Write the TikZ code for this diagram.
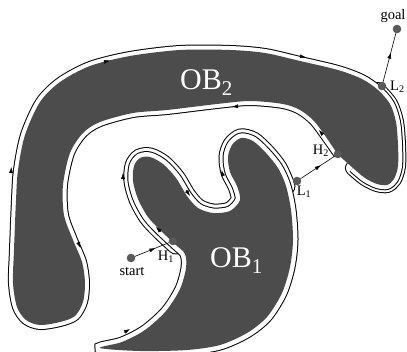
\documentclass[tikz,border=0pt]{standalone}
\usepackage{fontspec}
\setmainfont{Liberation Serif}
\usetikzlibrary{arrows.meta,decorations.markings}
\definecolor{obgray}{RGB}{76,76,76}
\definecolor{dotgray}{RGB}{90,90,90}
\begin{document}
\begin{tikzpicture}[x=1pt,y=-1pt,
  sgltwo/.style={draw=black,line width=1pt,double=white,double distance=8pt},
  dbltwo/.style={draw=black,line width=1pt,double=white,double distance=14pt,line cap=round},
  sglone/.style={draw=black,line width=1pt,double=white,double distance=9pt},
  dblone/.style={draw=black,line width=1pt,double=white,double distance=17pt,line cap=round},
  ptdot/.style={circle,fill=dotgray,draw=black!70,line width=0.4pt,inner sep=0pt,minimum size=8pt},
  lbl/.style={font=\fontsize{14.5}{16}\selectfont,inner sep=0pt},
  oblbl/.style={font=\fontsize{30}{34}\selectfont,text=white,inner sep=0pt},
  ptip/.style={-{Latex[length=6pt,width=4pt]},line width=0.5pt},
  conn/.style={line width=0.6pt,postaction={decorate},
    decoration={markings,mark=at position 0.6 with {\arrow{Latex[length=6pt,width=4pt]}}}}
]
\useasboundingbox (0,0) rectangle (407,352);

% ---------- OB2 ----------
\draw[dbltwo] plot[smooth] coordinates {(378,90) (390,104) (396,122) (398,145) (398,166) (394,179) (387,185) (377,184) (365,178) (353,168)};
\draw[sgltwo] plot[smooth] coordinates {(338,154) (326,137) (314,121) (300,110) (283,104) (250,101) (217,104) (167,110) (133,113) (100,122) (83,133) (70,153) (63,185) (64,215) (73,240) (82,262) (85,283) (83,302) (75,316) (60,322) (40,325) (26,320) (17,307) (13,283) (14,250) (16,200) (18,170) (25,135) (40,102) (60,82) (90,66) (130,56) (180,50) (230,50) (265,53) (300,61) (338,70) (362,79) (378,90) (390,104) (396,122) (398,145) (398,166) (394,179) (387,185) (377,184) (365,178) (353,168)};
\fill[obgray] plot[smooth cycle] coordinates {(338,154) (326,137) (314,121) (300,110) (283,104) (250,101) (217,104) (167,110) (133,113) (100,122) (83,133) (70,153) (63,185) (64,215) (73,240) (82,262) (85,283) (83,302) (75,316) (60,322) (40,325) (26,320) (17,307) (13,283) (14,250) (16,200) (18,170) (25,135) (40,102) (60,82) (90,66) (130,56) (180,50) (230,50) (265,53) (300,61) (338,70) (362,79) (378,90) (390,104) (396,122) (398,145) (398,166) (394,179) (387,185) (377,184) (365,178) (353,168)};

% ---------- OB1 ----------
\draw[dblone] plot[smooth] coordinates {(176,245) (161,231) (148,217) (138,199) (133,181) (134,166) (140,158) (150,157) (163,164) (176,178) (187,196) (198,208) (213,213) (230,211) (240,200) (237,186) (230,172) (228,157) (232,145) (241,138) (253,141) (266,153) (278,168) (286,186)};
\draw[sglone] plot[smooth cycle] coordinates {(100,348) (122,342) (145,330) (166,311) (180,289) (186,268) (185,254) (176,245) (161,231) (148,217) (138,199) (133,181) (134,166) (140,158) (150,157) (163,164) (176,178) (187,196) (198,208) (213,213) (230,211) (240,200) (237,186) (230,172) (228,157) (232,145) (241,138) (253,141) (266,153) (278,168) (286,186) (291,210) (293,240) (290,267) (282,293) (267,317) (247,333) (220,345) (187,350) (140,351)};
\fill[obgray] plot[smooth cycle] coordinates {(100,348) (122,342) (145,330) (166,311) (180,289) (186,268) (185,254) (176,245) (161,231) (148,217) (138,199) (133,181) (134,166) (140,158) (150,157) (163,164) (176,178) (187,196) (198,208) (213,213) (230,211) (240,200) (237,186) (230,172) (228,157) (232,145) (241,138) (253,141) (266,153) (278,168) (286,186) (291,210) (293,240) (290,267) (282,293) (267,317) (247,333) (220,345) (187,350) (140,351)};

% ---------- arrow tips on the paths ----------
\draw[ptip] (104,62) -- (110,60.5);
\draw[ptip] (300,56.3) -- (306,57.3);
\draw[ptip] (11,173) -- (11.3,167);
\draw[ptip] (78,242) -- (80.5,248);
\draw[ptip] (238,106.3) -- (232,106.8);
\draw[ptip] (323,135) -- (319,130);
\draw[ptip] (123,179) -- (123,173);
\draw[ptip] (186,190) -- (190,196);
\draw[ptip] (223,176) -- (221.5,170);
\draw[ptip] (161,232) -- (156,227);
\draw[ptip] (124,332.5) -- (130,329);

% ---------- points ----------
\node[ptdot] (start) at (131,258) {};
\node[ptdot] (H1) at (173,241) {};
\node[ptdot] (L1) at (297,181) {};
\node[ptdot] (H2) at (338,154) {};
\node[ptdot] (L2) at (382,86) {};
\node[ptdot] (goal) at (397,29) {};

\draw[conn] (start) -- (H1);
\draw[conn] (L1) -- (H2);
\draw[conn] (L2) -- (goal);

% ---------- labels ----------
\node[lbl] (tgoal) at (393,16) {goal};
\node[lbl,anchor=west] (tL2) at (390,87) {L\textsubscript{2}};
\node[lbl] (tH2) at (321,151) {H\textsubscript{2}};
\node[lbl] (tL1) at (304,192) {L\textsubscript{1}};
\node[lbl] (tH1) at (166,257) {H\textsubscript{1}};
\node[lbl] (tstart) at (132,271) {start};
\node[oblbl,anchor=base west] (tob2) at (180,90) {OB\textsubscript{2}};
\node[oblbl,anchor=base west] (tob1) at (210,268) {OB\textsubscript{1}};
\end{tikzpicture}
\end{document}
